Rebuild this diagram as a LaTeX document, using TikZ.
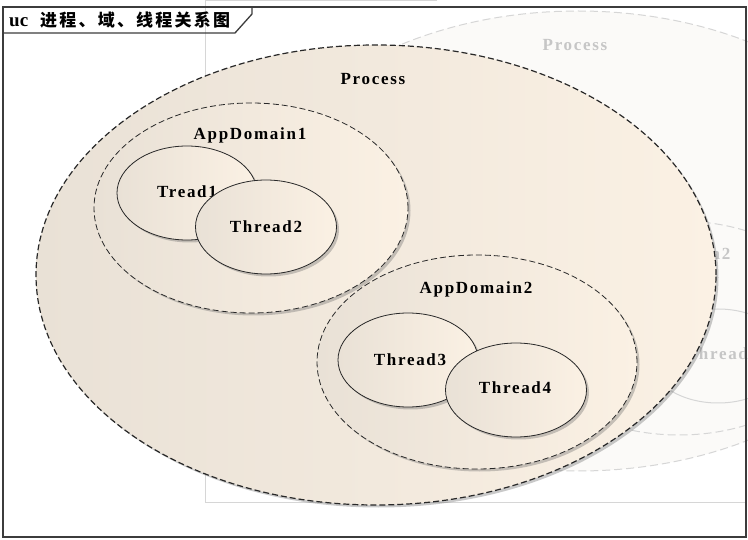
\documentclass[tikz,border=0pt]{standalone}
\usepackage{fontspec}
\setmainfont{Liberation Serif}
\newfontfamily\cjk[LetterSpace=13]{Noto Sans CJK SC}
\newfontfamily\lblfont[LetterSpace=10]{Liberation Serif}
\usetikzlibrary{shapes.geometric,shadows}
\definecolor{fillL}{RGB}{233,225,214}
\definecolor{fillR}{RGB}{251,241,228}
\definecolor{edgec}{RGB}{40,40,40}
\definecolor{ghostc}{RGB}{214,214,214}
\definecolor{ghostfill}{RGB}{251,250,248}
\definecolor{ghosttext}{RGB}{198,198,198}
\definecolor{framec}{RGB}{60,60,60}
\tikzset{
  oval/.style={ellipse, inner sep=0pt, left color=fillL, right color=fillR,
    drop shadow={shadow xshift=2.5pt, shadow yshift=-2.5pt, opacity=0.35, fill=black!60}},
  procbox/.style={oval, draw=edgec, line width=1.2pt, dash pattern=on 6pt off 3pt},
  dombox/.style={oval, draw=edgec, line width=0.8pt, dash pattern=on 6pt off 3pt},
  thrbox/.style={oval, draw=edgec, line width=0.8pt},
  ghostproc/.style={ellipse, inner sep=0pt, fill=ghostfill, draw=ghostc, line width=1pt, dash pattern=on 8pt off 4pt},
  ghostthr/.style={ellipse, inner sep=0pt, fill=ghostfill, draw=ghostc, line width=1pt},
  lbl/.style={font=\lblfont\fontsize{17}{17}\selectfont\bfseries, text=black, inner sep=0pt},
  glbl/.style={lbl, text=ghosttext},
  framestyle/.style={draw=framec, line width=1.3pt},
}
\begin{document}
\begin{tikzpicture}[x=1pt, y=-1pt]
\useasboundingbox (0,0) rectangle (748,540);
\fill[white] (0,0) rectangle (748,540);
\begin{scope}
\clip (0,0) rectangle (748,540);
% ghost copy
\draw[ghostc, line width=1pt] (437,1) -- (205,1) -- (205,502) -- (746,502);
\node[ghostproc, minimum width=680pt, minimum height=460pt] (gproc) at (578,241) {};
\node[glbl] (gproclbl) at (575,45) {Process};
\node[ghostproc, minimum width=314pt, minimum height=210pt] (gdom1) at (453,174) {};
\node[ghostproc, minimum width=320pt, minimum height=214pt] (gdom2) at (679,328) {};
\node[glbl] (gdom2lbl) at (674,255) {AppDomain2};
\node[ghostthr, minimum width=140pt, minimum height=94pt] (gthr3) at (610,326) {};
\node[ghostthr, minimum width=140pt, minimum height=94pt] (gthr4) at (718,356) {};
\node[glbl] (gthr4lbl) at (722,354) {Thread4};
\end{scope}
% frame
\draw[framestyle] (3,7) rectangle (746,537);
\draw[framestyle] (3,33) -- (235,33) -- (252,14) -- (252,7);
\node[anchor=west, inner sep=0pt] (title) at (9,20)
  {\fontsize{19}{19}\selectfont\bfseries uc\hspace{12pt}\cjk\fontsize{17}{17}\selectfont 进程、域、线程关系图};
% main process
\node[procbox, minimum width=680pt, minimum height=460pt] (proc) at (376,275) {};
\node[lbl] (proclbl) at (373,79) {Process};
% AppDomain1
\node[dombox, minimum width=314pt, minimum height=210pt] (dom1) at (251,208) {};
\node[lbl] (dom1lbl) at (250,135) {AppDomain1};
\node[thrbox, minimum width=140pt, minimum height=94pt] (thr1) at (187,193) {};
\node[lbl] (thr1lbl) at (187,192) {Tread1};
\node[thrbox, minimum width=141pt, minimum height=94pt] (thr2) at (266,227) {};
\node[lbl] (thr2lbl) at (266,227) {Thread2};
% AppDomain2
\node[dombox, minimum width=320pt, minimum height=214pt] (dom2) at (477,362) {};
\node[lbl] (dom2lbl) at (476,289) {AppDomain2};
\node[thrbox, minimum width=140pt, minimum height=94pt] (thr3) at (408,360) {};
\node[lbl] (thr3lbl) at (410,360) {Thread3};
\node[thrbox, minimum width=141pt, minimum height=94pt] (thr4) at (516,390) {};
\node[lbl] (thr4lbl) at (515,388) {Thread4};
\end{tikzpicture}
\end{document}
